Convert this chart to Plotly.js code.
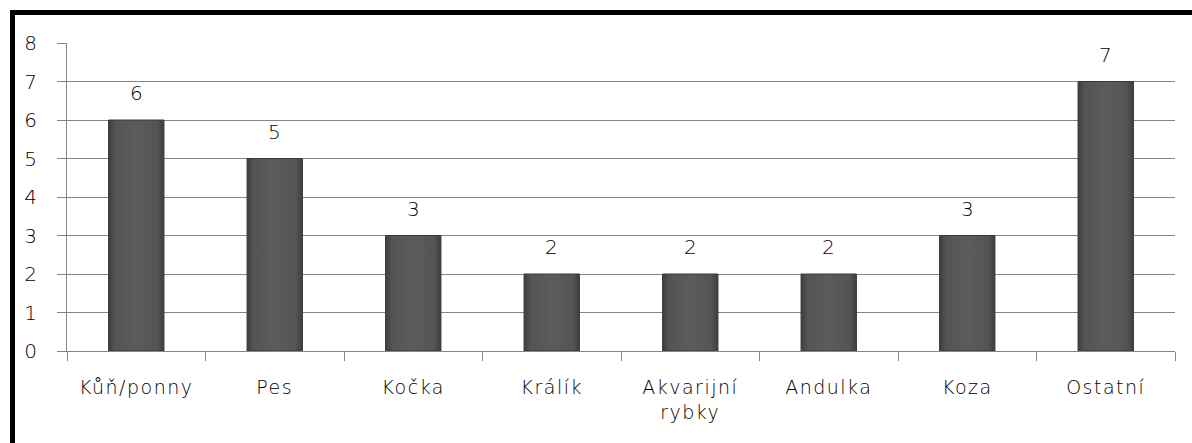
<!DOCTYPE html>
<html>
<head>
<meta charset="utf-8">
<script src="https://cdn.plot.ly/plotly-3.0.1.min.js"></script>
<style>
  html, body { margin: 0; padding: 0; background: #fff; }
  #wrap { position: relative; width: 1192px; height: 443px; overflow: hidden; }
  #chart { position: absolute; left: 0; top: 0; width: 1192px; height: 443px; }
  #frame { position: absolute; left: 10px; top: 10px; width: 1200px; height: 460px;
           border-left: 5px solid #000; border-top: 5px solid #000; pointer-events: none; }
  #chart .xtick text { letter-spacing: 1.5px; }
</style>
</head>
<body>
<div id="wrap">
  <div id="chart"></div>
  <div id="frame"></div>
</div>
<script>
const categories = ["Kůň/ponny", "Pes", "Kočka", "Králík", "Akvarijní<br>rybky", "Andulka", "Koza", "Ostatní"];
const values = [6, 5, 3, 2, 2, 2, 3, 7];
const yTicks = [0, 1, 2, 3, 4, 5, 6, 7, 8];

const fontFamily = "'DejaVu Sans', sans-serif";
const fontW = 200;

const trace = {
  type: "bar",
  x: categories,
  y: values,
  marker: {
    color: "#575757",
    line: { color: "#3a3a3a", width: 1 }
  },
  hoverinfo: "x+y"
};

const annotations = categories.map((c, i) => ({
  x: c,
  y: values[i],
  xref: "x",
  yref: "y",
  text: String(values[i]),
  showarrow: false,
  yanchor: "bottom",
  yshift: 13,
  font: { family: fontFamily, size: 20, color: "#000", weight: fontW }
}));

const layout = {
  width: 1192,
  height: 443,
  margin: { l: 67, r: 17, t: 43, b: 92 },
  paper_bgcolor: "rgba(0,0,0,0)",
  plot_bgcolor: "#fff",
  showlegend: false,
  bargap: 0.6,
  font: { family: fontFamily, size: 19, color: "#000", weight: fontW },
  annotations: annotations,
  xaxis: {
    type: "category",
    showline: true,
    linecolor: "#868686",
    linewidth: 1,
    ticks: "outside",
    tickson: "boundaries",
    ticklen: 9,
    tickcolor: "#868686",
    showgrid: false,
    tickfont: { family: fontFamily, size: 19, color: "#000", weight: fontW },
    ticklabelstandoff: 19
  },
  yaxis: {
    range: [0, 8],
    tickvals: yTicks,
    ticktext: yTicks.map(String),
    showline: true,
    linecolor: "#868686",
    linewidth: 1,
    ticks: "outside",
    ticklen: 9,
    tickcolor: "#868686",
    showgrid: true,
    gridcolor: "#868686",
    gridwidth: 1,
    zeroline: false,
    tickfont: { family: fontFamily, size: 20, color: "#000", weight: fontW },
    ticklabelstandoff: 16
  }
};

Plotly.newPlot("chart", [trace], layout, { displayModeBar: false, staticPlot: true }).then(gd => {
  const svg = gd.querySelector("svg.main-svg");
  const ns = "http://www.w3.org/2000/svg";
  let defs = svg.querySelector("defs");
  if (!defs) { defs = document.createElementNS(ns, "defs"); svg.insertBefore(defs, svg.firstChild); }
  const grad = document.createElementNS(ns, "linearGradient");
  grad.setAttribute("id", "barGrad");
  grad.setAttribute("x1", "0"); grad.setAttribute("y1", "0");
  grad.setAttribute("x2", "1"); grad.setAttribute("y2", "0");
  [["0%", "#3e3e3e"], ["12%", "#545454"], ["50%", "#5c5c5c"], ["88%", "#545454"], ["100%", "#3e3e3e"]].forEach(([o, c]) => {
    const s = document.createElementNS(ns, "stop");
    s.setAttribute("offset", o); s.setAttribute("stop-color", c);
    grad.appendChild(s);
  });
  defs.appendChild(grad);
  gd.querySelectorAll(".bars .point path").forEach(p => { p.style.fill = "url(#barGrad)"; });
});
</script>
</body>
</html>
